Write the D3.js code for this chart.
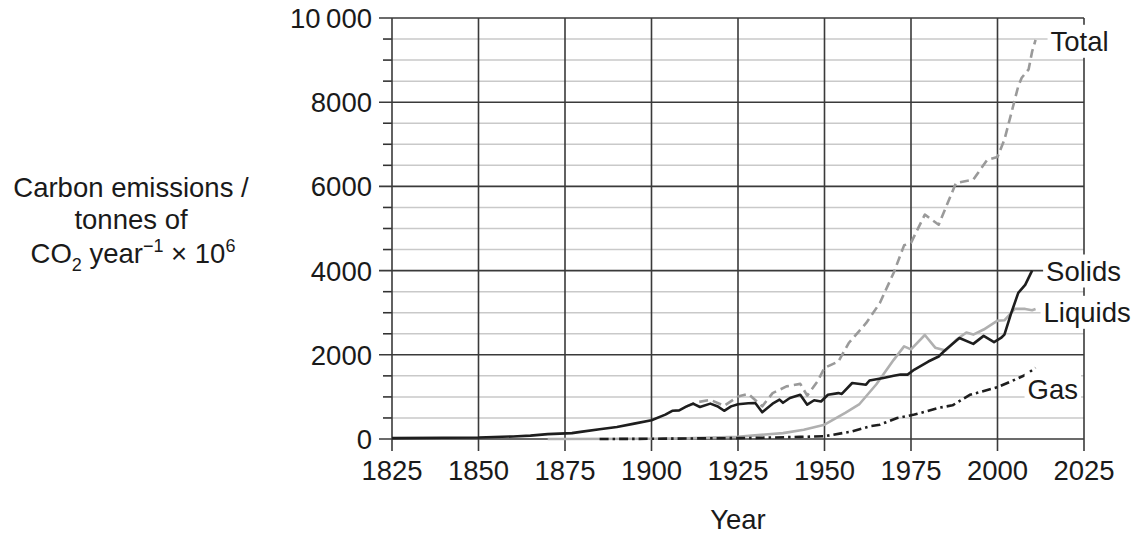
<!DOCTYPE html>
<meta charset="utf-8">
<script src="https://d3js.org/d3.v7.min.js"></script>
<style>
body { margin: 0; background: #fff; }
text { font-family: "Liberation Sans", Arial, sans-serif; fill: #1a1a1a; }
</style>
<div id="chart"></div>
<script>
// ---- data (tonnes CO2 / year x 10^6) ----
const solidsYears  = [1825,1840,1850,1860,1865,1870,1877,1880,1885,1890,1895,1900,1904,1906,1908,1910,1912,1914,1917,1919,1921,1923,1925,1928,1930,1932,1935,1937,1938,1940,1943,1945,1947,1949,1951,1954,1955,1958,1962,1963,1967,1970,1972,1974,1976,1980,1983,1985,1989,1993,1996,1999,2001,2002,2004,2006,2008,2010]
const solidsValues = [20,30,35,60,80,115,140,175,230,285,365,445,580,670,680,770,840,760,840,780,670,775,825,850,855,635,840,935,860,975,1050,815,920,890,1050,1090,1070,1330,1290,1390,1450,1500,1530,1530,1650,1840,1960,2120,2400,2260,2450,2300,2400,2480,3000,3470,3660,4000]

const liquidsYears  = [1870,1900,1910,1920,1925,1929,1938,1944,1950,1956,1960,1965,1970,1973,1975,1979,1982,1985,1988,1991,1993,1996,2000,2002,2005,2008,2010,2011]
const liquidsValues = [0,5,15,40,55,80,140,220,340,620,820,1300,1880,2200,2130,2470,2170,2100,2350,2530,2480,2600,2810,2820,3090,3090,3060,3090]

const totalYears  = [1910,1913,1917,1921,1925,1928,1932,1935,1939,1943,1945,1948,1950,1954,1957,1962,1966,1970,1973,1975,1979,1983,1988,1993,1997,2000,2002,2004,2006,2007,2009,2010,2011]
const totalValues = [770,870,930,790,1010,1070,775,1090,1250,1310,1030,1370,1690,1840,2280,2750,3230,3950,4600,4660,5330,5090,6080,6160,6630,6700,7110,7740,8380,8580,8780,9200,9480]

const gasYears  = [1885,1900,1915,1929,1943,1950,1958,1963,1966,1971,1976,1983,1987,1992,2000,2004,2008,2011]
const gasValues = [0,5,15,25,50,65,180,300,340,500,580,740,800,1050,1230,1370,1520,1690]

const xTicks = [1825,1850,1875,1900,1925,1950,1975,2000,2025]
const yTicks = [0,2000,4000,6000,8000,10000]
const yTickLabels = ['0','2000','4000','6000','8000','10\u2009000']

// ---- look ----
const width = 1141, height = 536
const plot = {left: 392, right: 1084, top: 18, bottom: 439}
const fontSize = 27.5

const seriesStyle = {
	Solids:  {stroke: '#1e1e1e', dash: null,        dx: 14, dy: 0},
	Liquids: {stroke: '#b0b0b0', dash: null,        dx: 8,  dy: 3},
	Total:   {stroke: '#9a9a9a', dash: '9,5',       dx: 15, dy: 1},
	Gas:     {stroke: '#1e1e1e', dash: '9,4,2.5,4', dx: -8, dy: 21},
}

const series = [
	{name: 'Liquids', years: liquidsYears, values: liquidsValues},
	{name: 'Gas',     years: gasYears,     values: gasValues},
	{name: 'Total',   years: totalYears,   values: totalValues},
	{name: 'Solids',  years: solidsYears,  values: solidsValues},
]

const x = d3.scaleLinear().domain([1825, 2025]).range([plot.left, plot.right])
const y = d3.scaleLinear().domain([0, 10000]).range([plot.bottom, plot.top])

const svg = d3.select('#chart')
	.append('svg')
	.attr('width', width)
	.attr('height', height)

// minor horizontal grid, every 500
const minor = d3.range(500, 10000, 500).filter(v => v % 2000 != 0)
svg.append('g')
	.selectAll('line')
	.data(minor)
	.join('line')
	.attr('x1', plot.left - 9).attr('x2', plot.right)
	.attr('y1', d => y(d)).attr('y2', d => y(d))
	.attr('stroke', '#c9c9c9')
	.attr('stroke-width', 1.5)

// short dark tick stubs for the minor lines
svg.append('g')
	.selectAll('line')
	.data(minor)
	.join('line')
	.attr('x1', plot.left - 9).attr('x2', plot.left)
	.attr('y1', d => y(d)).attr('y2', d => y(d))
	.attr('stroke', '#333')
	.attr('stroke-width', 1.5)

// major horizontal grid
svg.append('g')
	.selectAll('line')
	.data(yTicks)
	.join('line')
	.attr('x1', plot.left - 13).attr('x2', plot.right)
	.attr('y1', d => y(d)).attr('y2', d => y(d))
	.attr('stroke', '#3a3a3a')
	.attr('stroke-width', 1.6)

// vertical grid + x ticks
svg.append('g')
	.selectAll('line')
	.data(xTicks)
	.join('line')
	.attr('x1', d => x(d)).attr('x2', d => x(d))
	.attr('y1', plot.top).attr('y2', plot.bottom + 12)
	.attr('stroke', '#3a3a3a')
	.attr('stroke-width', 1.6)

// tick labels
svg.append('g')
	.selectAll('text')
	.data(yTicks)
	.join('text')
	.attr('x', plot.left - 20)
	.attr('y', d => y(d))
	.attr('dy', '0.36em')
	.attr('text-anchor', 'end')
	.attr('font-size', fontSize)
	.text((d, i) => yTickLabels[i])

svg.append('g')
	.selectAll('text')
	.data(xTicks)
	.join('text')
	.attr('x', d => x(d))
	.attr('y', plot.bottom + 31)
	.attr('dy', '0.36em')
	.attr('text-anchor', 'middle')
	.attr('font-size', fontSize)
	.text(d => d)

svg.append('text')
	.attr('x', (plot.left + plot.right) / 2)
	.attr('y', 519)
	.attr('dy', '0.36em')
	.attr('text-anchor', 'middle')
	.attr('font-size', fontSize)
	.text('Year')

// y axis title
const yt = svg.append('text')
	.attr('text-anchor', 'middle')
	.attr('font-size', fontSize)
yt.append('tspan').attr('x', 131).attr('y', 197).text('Carbon emissions /')
yt.append('tspan').attr('x', 131).attr('y', 229).text('tonnes of')
const l3 = yt.append('tspan').attr('x', 133).attr('y', 263)
l3.append('tspan').text('CO')
l3.append('tspan').attr('font-size', 18).attr('dy', 8).text('2')
l3.append('tspan').attr('dy', -8).text(' year')
l3.append('tspan').attr('font-size', 18).attr('dy', -11).text('\u22121')
l3.append('tspan').attr('dy', 11).text(' \u00d7 10')
l3.append('tspan').attr('font-size', 18).attr('dy', -11).text('6')

// lines
const line = d3.line()
	.x(d => x(d[0]))
	.y(d => y(d[1]))

svg.append('g')
	.selectAll('path')
	.data(series)
	.join('path')
	.attr('d', s => line(d3.zip(s.years, s.values)))
	.attr('fill', 'none')
	.attr('stroke', s => seriesStyle[s.name].stroke)
	.attr('stroke-width', 2.6)
	.attr('stroke-dasharray', s => seriesStyle[s.name].dash)
	.attr('stroke-linejoin', 'round')

// end labels on white boxes
const lab = svg.append('g')
	.selectAll('g')
	.data(series)
	.join('g')
	.attr('transform', s => {
		const n = s.years.length - 1
		const st = seriesStyle[s.name]
		return `translate(${x(s.years[n]) + st.dx},${y(s.values[n]) + st.dy})`
	})
const labText = lab.append('text')
	.attr('dy', '0.36em')
	.attr('font-size', fontSize)
	.text(s => s.name)
labText.each(function() {
	const b = this.getBBox()
	d3.select(this.parentNode).insert('rect', 'text')
		.attr('x', b.x - 3).attr('y', b.y - 1)
		.attr('width', b.width + 6).attr('height', b.height + 2)
		.attr('fill', '#fff')
})
</script>
